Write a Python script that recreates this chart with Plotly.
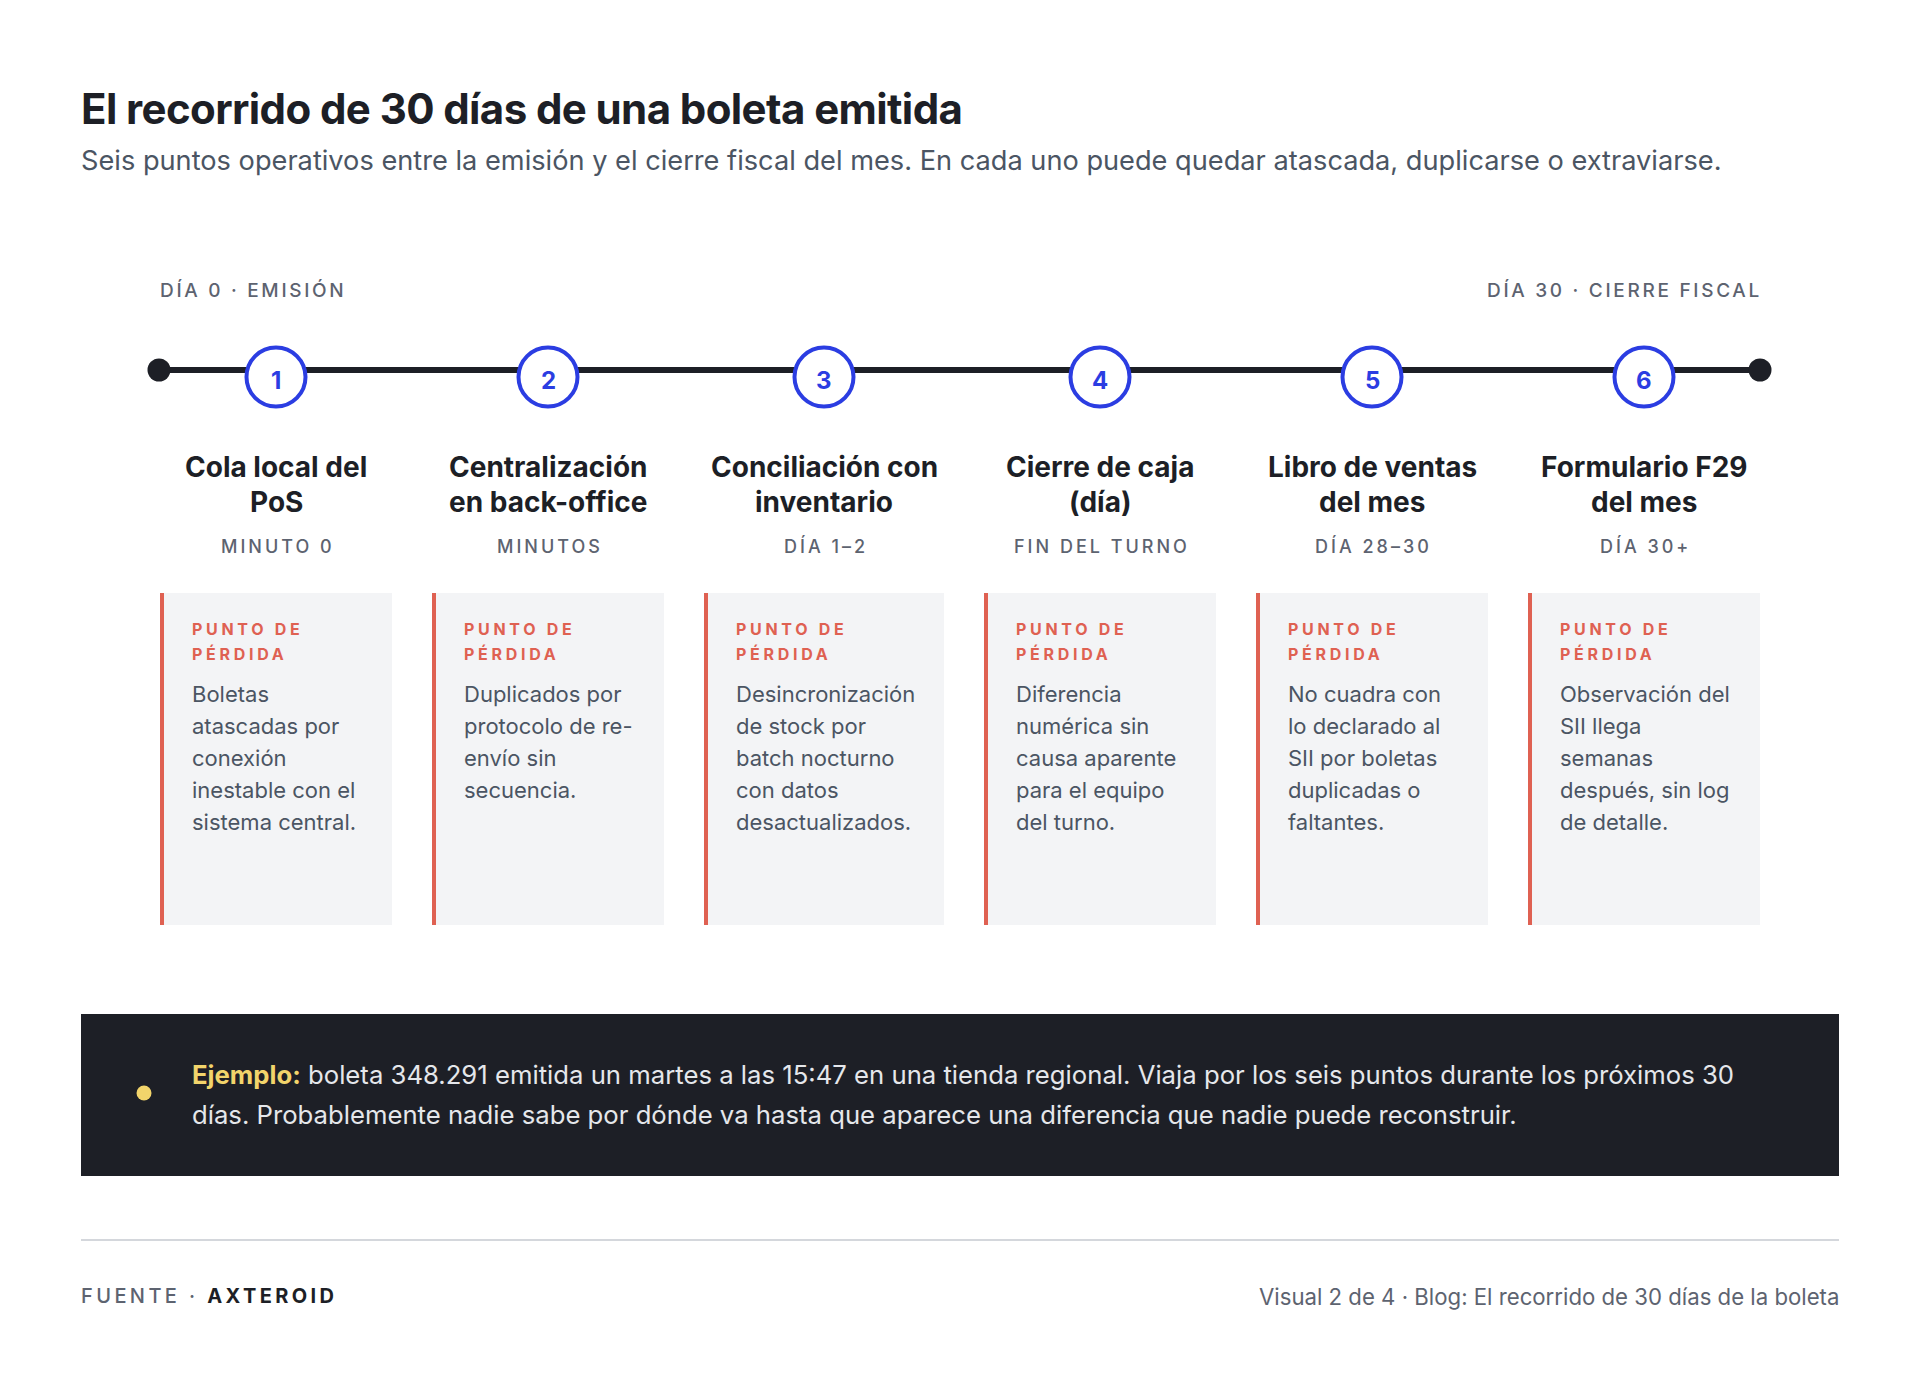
import plotly.graph_objects as go

# --- data ---
step_numbers = ["1", "2", "3", "4", "5", "6"]
step_titles = [
    "Cola local del\nPoS",
    "Centralización\nen back-office",
    "Conciliación con\ninventario",
    "Cierre de caja\n(día)",
    "Libro de ventas\ndel mes",
    "Formulario F29\ndel mes",
]
step_times = ["MINUTO 0", "MINUTOS", "DÍA 1–2", "FIN DEL TURNO", "DÍA 28–30", "DÍA 30+"]
loss_label = "PUNTO DE\nPÉRDIDA"
loss_texts = [
    "Boletas\natascadas por\nconexión\ninestable con el\nsistema central.",
    "Duplicados por\nprotocolo de re-\nenvío sin\nsecuencia.",
    "Desincronización\nde stock por\nbatch nocturno\ncon datos\ndesactualizados.",
    "Diferencia\nnumérica sin\ncausa aparente\npara el equipo\ndel turno.",
    "No cuadra con\nlo declarado al\nSII por boletas\nduplicadas o\nfaltantes.",
    "Observación del\nSII llega\nsemanas\ndespués, sin log\nde detalle.",
]
start_label = "DÍA 0 · EMISIÓN"
end_label = "DÍA 30 · CIERRE FISCAL"
title = "El recorrido de 30 días de una boleta emitida"
subtitle = ("Seis puntos operativos entre la emisión y el cierre fiscal del mes. "
            "En cada uno puede quedar atascada, duplicarse o extraviarse.")
example_lines = [
    "<b style='color:#f2d46b'>Ejemplo:</b> boleta 348.291 emitida un martes a las 15:47 en una tienda regional. "
    "Viaja por los seis puntos durante los próximos 30",
    "días. Probablemente nadie sabe por dónde va hasta que aparece una diferencia que nadie puede reconstruir.",
]
source_label = "FUENTE · <b style='color:#1d1f26'>AXTEROID</b>"
footer_right = "Visual 2 de 4 · Blog: El recorrido de 30 días de la boleta"

# --- layout constants (pixel space) ---
W, H = 1920, 1388
OFF = 8   # page body margin
PAD = 2   # annotation inner padding
FONT = "Inter"
DARK = "#1d1f26"
BLUE = "#2b3de2"
RED = "#df6152"
GRAY = "#4b5563"
MUTED = "#5d6370"
CARD_BG = "#f3f4f6"

card_left = [160, 432, 704, 984, 1256, 1528]
card_right = [392, 664, 944, 1216, 1488, 1760]
step_x = [(a + b) / 2 for a, b in zip(card_left, card_right)]
line_y, circle_y = 370, 377
line_x0, line_x1 = 159, 1760

fig = go.Figure()
shapes = []
ann = []


def text(x, y, s, size, color=GRAY, anchor="left", weight=400, spacing=None):
    if spacing is not None:
        s = "<span style='letter-spacing:%spx'>%s</span>" % (spacing, s)
    if anchor == "left":
        x -= PAD
    elif anchor == "right":
        x += PAD
    ann.append(dict(x=x, y=y, xref="x", yref="y", text=s, showarrow=False,
                    xanchor=anchor, yanchor="middle",
                    font=dict(family=FONT, size=size, color=color, weight=weight)))


# header
text(81, 108, title, 42, DARK, weight=700, spacing=-0.6)
text(81, 160, subtitle, 27.2, GRAY)

# timeline ends
text(160, 290, start_label, 19, MUTED, weight=500, spacing=2.7)
text(1760 + 2, 290, end_label, 19, MUTED, anchor="right", weight=500, spacing=2.7)

shapes.append(dict(type="line", x0=line_x0, x1=line_x1, y0=line_y, y1=line_y,
                   xref="x", yref="y", line=dict(color=DARK, width=6), layer="below"))
fig.add_trace(go.Scatter(x=[line_x0, line_x1], y=[line_y, line_y], mode="markers",
                         marker=dict(size=23, color=DARK), hoverinfo="skip"))
fig.add_trace(go.Scatter(x=step_x, y=[circle_y] * len(step_x), mode="markers",
                         marker=dict(size=59, color="white", line=dict(color=BLUE, width=4)),
                         hoverinfo="skip"))

for i, x in enumerate(step_x):
    text(x, circle_y + 3, "<b>%s</b>" % step_numbers[i], 24, BLUE, anchor="center", weight=700)
    for j, ln in enumerate(step_titles[i].split("\n")):
        text(x, 467 + 35 * j, ln, 28, DARK, anchor="center", weight=700)
    text(x + 1.5, 546, step_times[i], 18, MUTED, anchor="center", weight=500, spacing=3)

    shapes.append(dict(type="rect", x0=card_left[i], x1=card_right[i], y0=593, y1=925,
                       xref="x", yref="y", fillcolor=CARD_BG, line=dict(width=0), layer="below"))
    shapes.append(dict(type="rect", x0=card_left[i], x1=card_left[i] + 4, y0=593, y1=925,
                       xref="x", yref="y", fillcolor=RED, line=dict(width=0), layer="below"))
    tx = card_left[i] + 32
    for j, ln in enumerate(loss_label.split("\n")):
        text(tx, 629 + 25 * j, ln, 16, RED, weight=700, spacing=3.7)
    for j, ln in enumerate(loss_texts[i].split("\n")):
        text(tx, 694 + 32 * j, ln, 22, GRAY)

# example box
shapes.append(dict(type="rect", x0=81, x1=1839, y0=1014, y1=1176, xref="x", yref="y",
                   fillcolor=DARK, line=dict(width=0), layer="below"))
fig.add_trace(go.Scatter(x=[144], y=[1093], mode="markers",
                         marker=dict(size=15, color="#f2d46b"), hoverinfo="skip"))
for j, ln in enumerate(example_lines):
    text(192, 1074 + 40 * j, ln, 25.7, "#e5e7eb")

# footer
shapes.append(dict(type="line", x0=81, x1=1839, y0=1240, y1=1240, xref="x", yref="y",
                   line=dict(color="#d4d7dc", width=2)))
text(81, 1296, source_label, 20, MUTED, weight=500, spacing=3.4)
text(1839, 1296, footer_right, 22.2, MUTED, anchor="right")

fig.update_layout(
    width=W, height=H, margin=dict(l=0, r=0, t=0, b=0),
    paper_bgcolor="white", plot_bgcolor="white", showlegend=False,
    xaxis=dict(range=[OFF, W + OFF], visible=False, fixedrange=True),
    yaxis=dict(range=[H + OFF, OFF], visible=False, fixedrange=True),
    shapes=shapes, annotations=ann,
)
fig.write_html("out.html")
